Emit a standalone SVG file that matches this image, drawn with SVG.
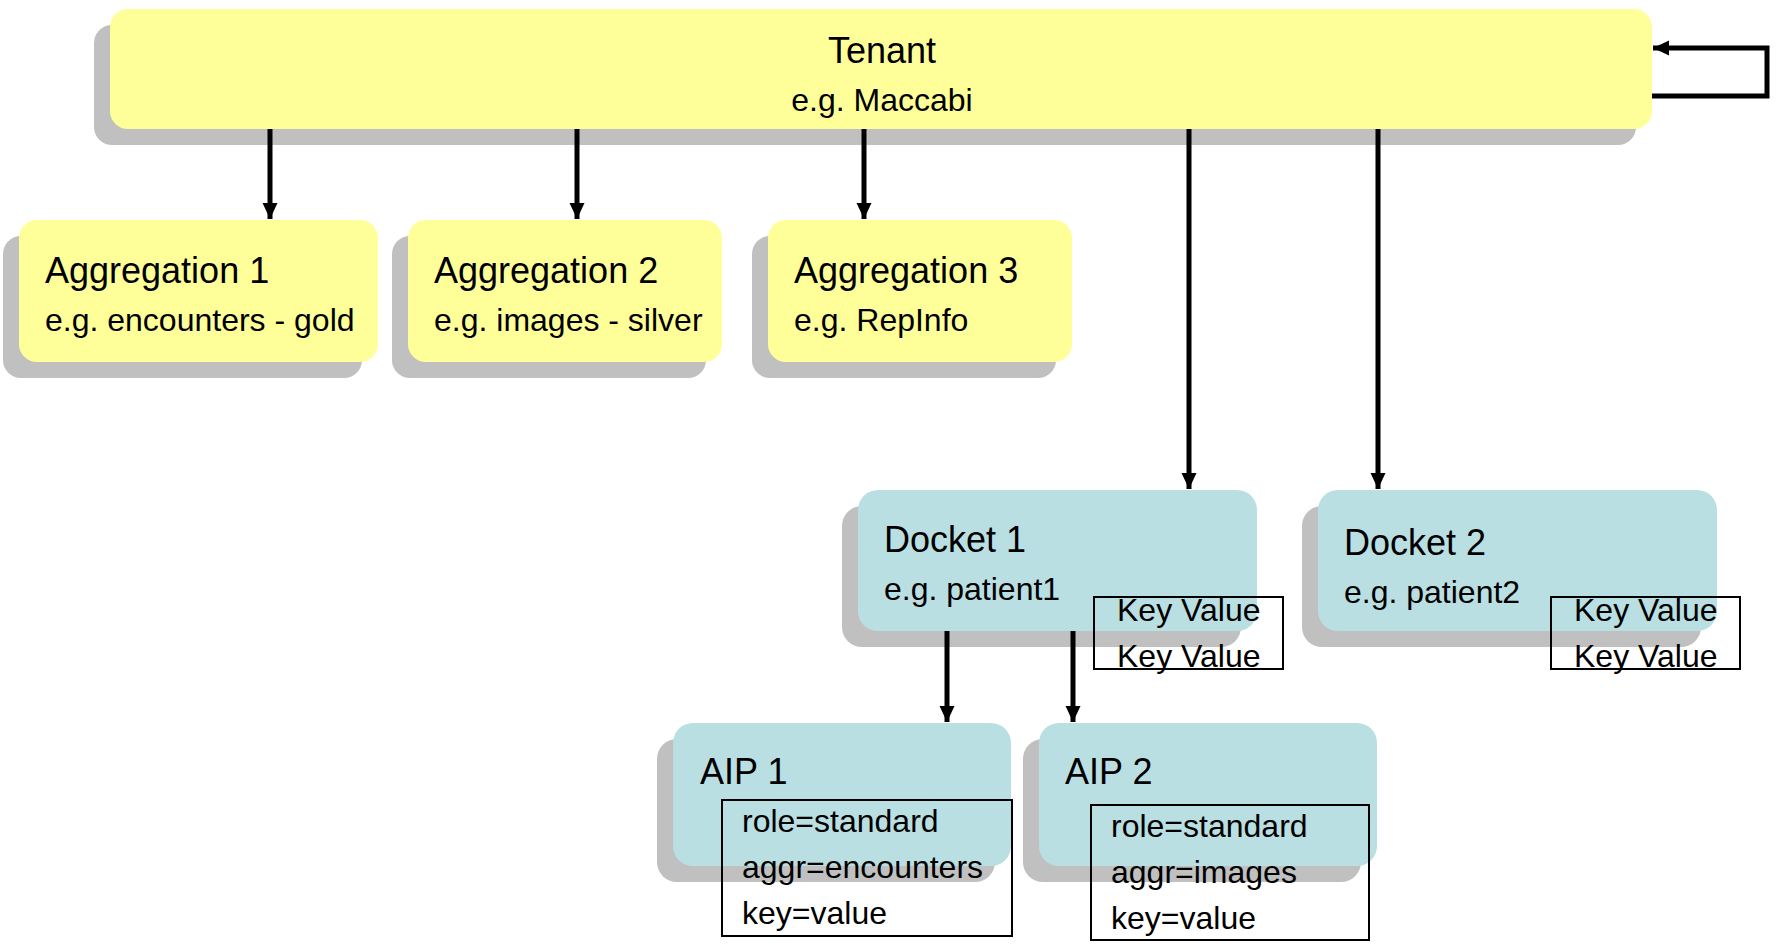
<svg xmlns="http://www.w3.org/2000/svg" width="1777" height="944" viewBox="0 0 1777 944">
<style>
.shadow{fill:#c0c0c0}
.yel{fill:#ffff99}
.teal{fill:#b9dfe3}
.attr{fill:none;stroke:#000;stroke-width:2}
text{font-family:"Liberation Sans",Arial,sans-serif;fill:#000}
.t36{font-size:36px}
.t32{font-size:32px}
.conn{fill:none;stroke:#000;stroke-width:5;marker-end:url(#arr)}
</style>
<defs>
<marker id="arr" markerUnits="userSpaceOnUse" markerWidth="17" markerHeight="16" refX="16" refY="7.5" orient="auto">
<path d="M0,0 L16,7.5 L0,15 Z" fill="#000"/>
</marker>
</defs>
<rect width="1777" height="944" fill="#fff"/>
<g id="tenant">
<rect class="shadow" x="94" y="25" width="1542" height="120" rx="18"/>
<rect class="yel" x="110" y="9" width="1542" height="120" rx="18"/>
<text class="t36" x="882" y="63" text-anchor="middle">Tenant</text>
<text class="t32" x="882" y="111" text-anchor="middle">e.g. Maccabi</text>
</g>
<g id="agg1">
<rect class="shadow" x="3" y="236" width="359" height="142" rx="18"/>
<rect class="yel" x="19" y="220" width="359" height="142" rx="18"/>
<text class="t36" x="45" y="283">Aggregation 1</text>
<text class="t32" x="45" y="331">e.g. encounters - gold</text>
</g>
<g id="agg2">
<rect class="shadow" x="392" y="236" width="314" height="142" rx="18"/>
<rect class="yel" x="408" y="220" width="314" height="142" rx="18"/>
<text class="t36" x="434" y="283">Aggregation 2</text>
<text class="t32" x="434" y="331">e.g. images - silver</text>
</g>
<g id="agg3">
<rect class="shadow" x="752" y="236" width="304" height="142" rx="18"/>
<rect class="yel" x="768" y="220" width="304" height="142" rx="18"/>
<text class="t36" x="794" y="283">Aggregation 3</text>
<text class="t32" x="794" y="331">e.g. RepInfo</text>
</g>
<g id="docket1">
<rect class="shadow" x="842" y="506" width="399" height="141" rx="20"/>
<rect class="teal" x="858" y="490" width="399" height="141" rx="20"/>
<text class="t36" x="884" y="552">Docket 1</text>
<text class="t32" x="884" y="600">e.g. patient1</text>
<rect class="attr" x="1094" y="597" width="189" height="72"/>
<text class="t32" x="1117" y="621">Key Value</text>
<text class="t32" x="1117" y="667">Key Value</text>
</g>
<g id="docket2">
<rect class="shadow" x="1302" y="506" width="399" height="141" rx="20"/>
<rect class="teal" x="1318" y="490" width="399" height="141" rx="20"/>
<text class="t36" x="1344" y="555">Docket 2</text>
<text class="t32" x="1344" y="603">e.g. patient2</text>
<rect class="attr" x="1551" y="597" width="189" height="72"/>
<text class="t32" x="1574" y="621">Key Value</text>
<text class="t32" x="1574" y="667">Key Value</text>
</g>
<g id="aip1">
<rect class="shadow" x="657" y="739" width="338" height="143" rx="20"/>
<rect class="teal" x="673" y="723" width="338" height="143" rx="20"/>
<text class="t36" x="700" y="784">AIP 1</text>
<rect class="attr" x="722" y="800" width="290" height="136"/>
<text class="t32" x="742" y="832">role=standard</text>
<text class="t32" x="742" y="878">aggr=encounters</text>
<text class="t32" x="742" y="924">key=value</text>
</g>
<g id="aip2">
<rect class="shadow" x="1023" y="739" width="338" height="143" rx="20"/>
<rect class="teal" x="1039" y="723" width="338" height="143" rx="20"/>
<text class="t36" x="1065" y="784">AIP 2</text>
<rect class="attr" x="1091" y="805" width="278" height="135"/>
<text class="t32" x="1111" y="837">role=standard</text>
<text class="t32" x="1111" y="883">aggr=images</text>
<text class="t32" x="1111" y="929">key=value</text>
</g>
<g id="connectors">
<path class="conn" d="M270,129 V219"/>
<path class="conn" d="M577,129 V219"/>
<path class="conn" d="M864,129 V219"/>
<path class="conn" d="M1189,129 V489"/>
<path class="conn" d="M1378,129 V489"/>
<path class="conn" d="M947,631 V722"/>
<path class="conn" d="M1073,631 V722"/>
<path class="conn" d="M1652,96 H1767 V48 H1653"/>
</g>
</svg>
